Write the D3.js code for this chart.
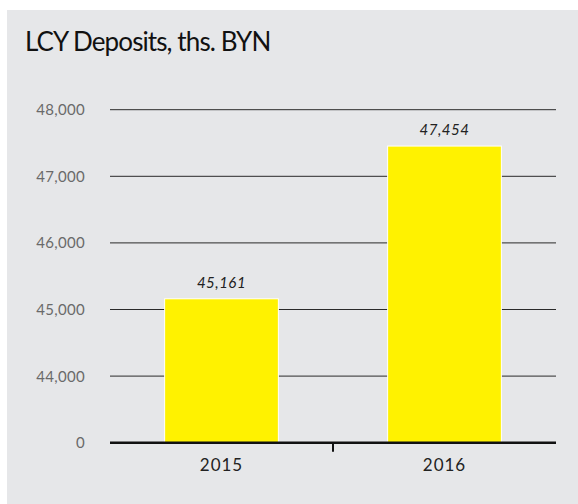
<!DOCTYPE html>
<html>
<head>
<meta charset="utf-8">
<script src="https://cdn.jsdelivr.net/npm/d3@7"></script>
<style>
  html, body { margin: 0; padding: 0; background: #fff; }
  svg { display: block; }
  text { font-family: Lato, "Open Sans", sans-serif; }
</style>
</head>
<body>
<svg id="chart" width="578" height="504"></svg>
<script>
// data
var years = ["2015", "2016"];
var deposits = [45161, 47454];
var tickValues = [43000, 44000, 45000, 46000, 47000, 48000];
var tickLabels = ["0", "44,000", "45,000", "46,000", "47,000", "48,000"]; // axis is broken, bottom shows 0

var svg = d3.select("#chart");

// panel background
svg.append("rect").attr("x", 7).attr("y", 10).attr("width", 571).attr("height", 494).attr("fill", "#e6e7e9");

svg.append("text")
  .attr("x", 25).attr("y", 51)
  .attr("font-size", 26).attr("letter-spacing", -0.9).attr("fill", "#111")
  .text("LCY Deposits, ths. BYN");

var left = 110, right = 556;
var y = d3.scaleLinear().domain([43000, 48000]).range([442.7, 109.7]);
var x = d3.scaleBand().domain(years).range([left, right]).paddingInner(0.49).paddingOuter(0.245);

// gridlines + tick labels
var ticks = svg.append("g");
tickValues.forEach(function (v, i) {
  if (i > 0) {
    ticks.append("line")
      .attr("x1", left).attr("x2", right)
      .attr("y1", y(v)).attr("y2", y(v))
      .attr("stroke", "#2a2a2a").attr("stroke-width", 1);
  }
  ticks.append("text")
    .attr("x", 85).attr("y", y(v)).attr("dy", "0.36em")
    .attr("text-anchor", "end")
    .attr("font-size", 15).attr("letter-spacing", 0.3).attr("fill", "#6a6a6a")
    .text(tickLabels[i]);
});

// bars
svg.selectAll("rect.bar").data(deposits).enter().append("rect")
  .attr("class", "bar")
  .attr("x", function (d, i) { return x(years[i]); })
  .attr("width", x.bandwidth())
  .attr("y", function (d) { return y(d); })
  .attr("height", function (d) { return y(43000) - y(d); })
  .attr("fill", "#fff200").attr("stroke", "#fff").attr("stroke-width", 1);

// value labels
svg.selectAll("text.val").data(deposits).enter().append("text")
  .attr("class", "val")
  .attr("x", function (d, i) { return x(years[i]) + x.bandwidth() / 2; })
  .attr("y", function (d) { return y(d) - 11; })
  .attr("text-anchor", "middle")
  .attr("font-size", 15).attr("letter-spacing", 0.5).attr("font-style", "italic").attr("fill", "#222")
  .text(function (d) { return d3.format(",")(d); });

// baseline + middle tick
svg.append("line").attr("x1", left).attr("x2", right)
  .attr("y1", y(43000)).attr("y2", y(43000))
  .attr("stroke", "#111").attr("stroke-width", 2.5);
var mid = (x(years[0]) + x.bandwidth() + x(years[1])) / 2;
svg.append("line").attr("x1", mid).attr("x2", mid)
  .attr("y1", y(43000)).attr("y2", y(43000) + 9)
  .attr("stroke", "#111").attr("stroke-width", 2);

// category labels
svg.selectAll("text.cat").data(years).enter().append("text")
  .attr("class", "cat")
  .attr("x", function (d) { return x(d) + x.bandwidth() / 2; })
  .attr("y", 471)
  .attr("text-anchor", "middle")
  .attr("font-size", 17).attr("letter-spacing", 1).attr("fill", "#222")
  .text(function (d) { return d; });
</script>
</body>
</html>
